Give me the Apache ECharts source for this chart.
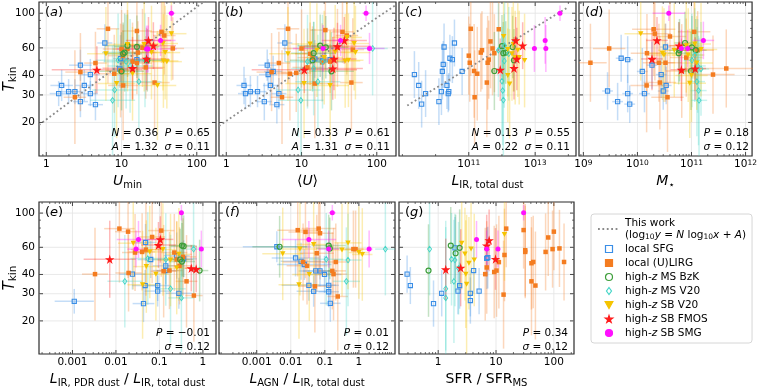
<!DOCTYPE html>
<html>
<head>
<meta charset="utf-8">
<script src="https://cdn.jsdelivr.net/npm/echarts@6/dist/echarts.min.js"></script>
<style>
  html, body { margin: 0; padding: 0; background: #fff; }
  #chart { width: 760px; height: 389px; }
</style>
</head>
<body>
<div id="chart"></div>
<script>
// each point: [x, T_kin, x error (dex), T error (dex)]
// (a) U_min
const sfgA = [[1.46,30.6,.12,.08],[1.6,34.5,.15,.1],[1.98,31.5,.12,.08],[2.4,31.5,.1,.08],[2.84,46.5,.15,.1],[2.84,27.2,.1,.1],[3.2,34.5,.12,.1],[3.85,40.5,.12,.1],[3.85,30.6,.1,.08],[4.5,26,.1,.1],[6,64.5,.1,.12],[9.7,51.3,.1,.15],[9.5,44,.1,.12],[16,50.5,.08,.1]];
const lirgA = [[6.6,79.5,.15,.35],[4.5,48,.15,.2],[2.84,42,.2,.25],[2.4,29,.15,.3],[10,59,.25,.25],[10.5,53.5,.2,.2],[9.7,43,.2,.3],[10.5,34.5,.2,.35],[16,77,.2,.25],[14,49,.2,.25],[16,48,.2,.2],[16.5,56,.25,.2],[27.5,36,.2,.3],[34,76,.15,.2],[37,72,.15,.25],[48,59.5,.15,.2],[12,59,.2,.25],[19,60,.2,.25],[21,45,.25,.2],[8,41,.2,.25]];
const bzkA = [[12,62,.3,.2],[16,61,.3,.2],[11,56,.3,.25],[10,42.5,.3,.25],[10.5,55,.25,.2],[22,50,.3,.2]];
const msA = [[7.6,27.7,.3,.35],[8.1,32.3,.3,.3],[9,50,.3,.3],[17,36.5,.3,.3],[20.5,50,.3,.3],[13,46,.3,.3],[11.5,49,.3,.3]];
const sbA = [[6.2,55,.25,.3],[8.6,35.5,.25,.35],[12,63,.25,.3],[14,41,.25,.3],[20,63,.25,.3],[25,56,.25,.3],[30,34.5,.25,.35],[35.5,64,.2,.3],[38,56,.2,.3],[36,49.5,.2,.3],[40,49,.2,.3],[46,74,.2,.3]];
const fmosA = [[4.7,43.5,.6,.15],[14,44.5,.4,.2],[21.5,51,.3,.2],[22.8,67,.3,.15],[26.5,62,.3,.15]];
const smgA = [[46,100,.05,.05],[33,67,.2,.1],[21.5,59,.4,.15],[22.5,59,.1,.15]];

// (b) <U>
const sfgB = [[1.72,34.5,.1,.12],[1.8,30.6,.1,.1],[2.09,31.5,.12,.1],[2.6,31.5,.12,.1],[3.2,27.2,.1,.12],[3.5,46.5,.12,.1],[3.6,40.5,.12,.1],[3.86,34.5,.1,.12],[4.2,42.4,.12,.1],[4.7,26,.1,.12],[5,30.6,.1,.1],[6,64.5,.1,.12],[19,49.5,.1,.12],[24,50.5,.1,.1],[15,51,.1,.12]];
const lirgB = [[6.6,79.5,.15,.35],[5,48,.15,.2],[4,42,.2,.25],[5.5,29,.15,.3],[7,41,.2,.3],[8.5,41.5,.2,.25],[10,59.5,.25,.25],[13,55,.2,.2],[14,52,.2,.2],[15,35.5,.2,.35],[18.8,48.5,.2,.25],[20.7,78,.2,.25],[35,76,.15,.2],[40,72,.15,.25],[48,58.5,.15,.2],[46,36,.15,.3],[30,60,.2,.25],[24,49,.2,.2],[12,45,.2,.25]];
const bzkB = [[14.5,55.5,.3,.2],[17.7,62,.3,.2],[21,60.5,.3,.2],[14,50,.3,.2],[25,42.5,.3,.25]];
const msB = [[9,32.3,.3,.3],[9.8,27.7,.3,.35],[14.5,44.3,.3,.3],[16.5,36.5,.3,.3],[19,49,.3,.3],[88,59.5,.2,.3],[12,49,.3,.3]];
const sbB = [[6.6,55,.25,.3],[10.8,35.5,.25,.35],[13,63.5,.25,.3],[16,58,.25,.3],[24,34.5,.25,.35],[28,56.5,.25,.3],[38,49.5,.2,.3],[42,50,.2,.3],[50,64,.2,.3],[52,56,.2,.3],[40,70,.2,.3],[20,52,.25,.3]];
const fmosB = [[10.9,43.5,.7,.15],[26,44.3,.4,.2],[27,51,.3,.2],[30,61.5,.45,.15],[37,67,.3,.15]];
const smgB = [[72,100,.05,.05],[80,59.5,.2,.1],[19.3,59.5,.4,.15],[33,67,.1,.1]];

// (c) L_IR, total dust
const sfgC = [[2.3e9,40.5,0,.15],[3.1e9,34.5,0,.15],[3.8e9,26.2,0,.15],[5e9,30.6,0,.15],[1.26e10,27.2,0,.15],[1.5e10,31.5,0,.15],[1.6e10,42.4,0,.18],[1.7e10,47,0,.15],[1.8e10,60.8,0,.15],[2.2e10,34.5,0,.15],[2.4e10,30.6,0,.12],[2.5e10,31.5,0,.12],[2.7e10,51.5,0,.15],[3.2e10,50.5,0,.15],[3.7e10,64.5,0,.15],[6.3e10,42.4,0,.15]];
const lirgC = [[1.15e11,79.5,0,.3],[1e11,53.5,0,.25],[1.07e11,48.2,0,.25],[1.45e11,42.7,0,.3],[1.5e11,29,0,.3],[1.8e11,41,0,.3],[2.3e11,56,0,.25],[3.7e11,48.2,0,.3],[4e11,50.5,0,.25],[3.5e11,36,0,.35],[5.2e11,59.5,0,.3],[5.9e11,55.5,0,.25],[4.5e11,66,0,.3],[8e11,79,0,.25],[2.5e11,58,0,.25]];
const bzkC = [[5.9e11,42.7,.1,.25],[1e12,61.5,.1,.2],[1.1e12,55.5,.1,.2],[2.1e12,60.8,.1,.2],[2.3e12,50,.1,.2],[1.3e12,56,.1,.2]];
const msC = [[7.8e11,58,0,.3],[1.17e12,49.5,0,.3],[1e12,36.8,0,.35],[1.05e12,32,0,.35],[1.1e12,27.8,0,.4],[1.6e12,55,0,.3],[1.2e12,62,0,.3]];
const sbC = [[1.12e12,71,0,.3],[1.5e12,58.5,0,.3],[2e12,55,0,.3],[3e12,58,0,.3],[4.8e12,49.8,0,.3],[1.7e12,35.3,0,.35],[2.5e12,52,0,.3],[2.2e12,63,0,.3],[3.3e12,52,0,.3],[1.5e12,40,0,.3]];
const fmosC = [[8.9e11,43.5,0,.2],[2.3e12,44.5,0,.2],[2.8e12,51,0,.2],[2.6e12,67,0,.15],[4.2e12,62,0,.15]];
const smgC = [[5.6e13,100,0,.05],[2e13,67,0,.15],[9.5e12,59.5,0,.15],[2.1e13,59.5,0,.15]];

// (d) M_star
const sfgD = [[2.8e9,31.8,.1,.12],[4.3e9,27.2,.1,.12],[5e9,51.5,.1,.15],[6.6e9,30.6,.1,.12],[6.6e9,50.5,.1,.15],[7.2e9,26.2,.1,.12],[1.23e10,42.4,.1,.15],[1.35e10,30.6,.1,.12],[1.86e10,46.5,.1,.15],[2.75e10,40.5,.1,.15],[3e10,31.8,.1,.12],[3.3e10,60.8,.1,.15],[3.4e10,34.5,.1,.12]];
const lirgD = [[1.35e9,48.2,.3,.25],[3e9,59.5,.3,.25],[1.48e10,34.5,.3,.3],[1.5e10,55.5,.3,.25],[2e10,79,.4,.3],[2.1e10,74,.3,.3],[2.5e10,48.2,.3,.25],[2.6e10,36,.3,.3],[3.3e10,48.2,.3,.25],[3.6e10,29,.3,.35],[4e10,71,.3,.3],[6.6e10,42.7,.3,.3],[1.12e11,76,.3,.3],[2.5e11,40.5,.4,.25],[4.4e11,44.3,.5,.25],[1.3e11,58,.3,.25],[8e10,52,.3,.25]];
const bzkD = [[5.8e10,55.5,.2,.2],[1.02e11,60.5,.2,.2],[9.8e10,42.7,.2,.25],[7.6e10,64.5,.2,.2],[1.2e11,58,.2,.2],[6e10,58,.2,.2]];
const msD = [[1.02e11,50,.15,.3],[1.5e11,44,.15,.3],[1.26e11,36.5,.15,.35],[1.35e11,32,.15,.35],[1.38e11,27.7,.15,.4],[1.15e11,54,.15,.3],[1.3e11,46,.15,.3]];
const sbD = [[1.15e10,74,.3,.3],[2.9e10,55.5,.3,.3],[3.1e10,54,.3,.3],[4.8e10,58,.3,.3],[8.7e10,54,.3,.3],[9.3e10,35.6,.3,.35],[1.15e11,63.5,.3,.3],[1.5e11,58.5,.3,.3],[1.25e11,48,.3,.3],[1e11,40,.3,.3],[8e10,62,.3,.3]];
const fmosD = [[1.86e10,51,.2,.2],[2.3e10,67,.2,.15],[5.9e10,62,.2,.15],[6.5e10,43.5,.2,.2],[1.17e11,44.3,.2,.2]];
const smgD = [[3.8e10,100,.3,.05],[6.5e10,59.5,.2,.12],[8.5e10,59.5,.2,.12],[1.66e11,67,.2,.12]];

// (e) L_IR,PDR / L_IR,total
const sfgE = [[0.0011,26.8,.45,.08],[0.024,40.2,.3,.1],[0.048,64.5,.25,.12],[0.047,33.9,.3,.1],[0.043,25.9,.25,.12],[0.091,33.9,.3,.1],[0.091,31.2,.3,.1],[0.14,45.5,.3,.12],[0.14,42.4,.3,.12],[0.28,30.2,.3,.1],[0.36,50.5,.3,.12],[0.063,50,.3,.12],[0.25,53,.3,.15]];
const lirgE = [[0.0033,40.2,.3,.3],[0.012,79.3,.35,.35],[0.019,75.8,.3,.3],[0.0195,40.9,.3,.25],[0.0275,55.5,.3,.25],[0.049,58,.35,.3],[0.068,70,.3,.3],[0.11,77,.3,.3],[0.17,42.4,.3,.25],[0.22,55.5,.3,.25],[0.29,45.5,.3,.25],[0.42,36.1,.25,.3],[0.62,29.2,.2,.3],[0.125,42,.3,.3],[0.25,50,.3,.25],[0.04,56,.3,.25],[0.35,52,.3,.25]];
const bzkE = [[0.33,61.6,.3,.2],[0.36,61,.3,.2],[0.3,50,.3,.2],[0.33,48.5,.3,.25],[0.84,42.4,.2,.2]];
const msE = [[0.016,36.1,.4,.3],[0.054,50.7,.4,.3],[0.18,32.3,.35,.35],[0.32,28.2,.3,.35],[0.61,58.4,.2,.3],[0.14,50,.3,.3]];
const sbE = [[0.025,63.8,.35,.3],[0.041,34.3,.35,.35],[0.083,40.2,.3,.3],[0.18,49.6,.3,.3],[0.25,44,.3,.3],[0.06,56,.3,.3],[0.28,54,.3,.3],[0.05,45,.3,.3],[0.12,58,.3,.3]];
const fmosE = [[0.0072,50.2,.6,.25],[0.105,67.5,.3,.15],[0.095,62,.4,.15],[0.54,43.9,.15,.15],[0.7,43.4,.1,.15]];
const smgE = [[0.32,100.5,.05,.05],[0.033,67.5,.5,.12],[0.029,58.4,.2,.12],[0.92,58.4,.05,.12]];

// (f) L_AGN / L_IR,total
const sfgF = [[0.0039,60.5,1.0,.1],[0.0138,51.2,.7,.12],[0.02,48.7,.6,.12],[0.025,46.4,.8,.1],[0.054,42.2,.5,.1],[0.072,42.2,.5,.1],[0.098,40,.5,.12],[0.034,34,.8,.1],[0.047,31.1,.5,.1],[0.13,34,.3,.1],[0.13,30.9,.3,.1],[0.145,26,.3,.12]];
const lirgF = [[0.016,77.5,.6,.3],[0.027,75.5,.5,.3],[0.066,79.3,.5,.3],[0.072,74,.4,.3],[0.023,48.2,.6,.25],[0.03,45.5,.6,.25],[0.051,33.5,.5,.3],[0.058,54.9,.5,.25],[0.166,42.2,.4,.25],[0.18,40.2,.4,.3],[0.21,48.2,.4,.25],[0.24,28.8,.3,.35],[0.69,58.4,.3,.25],[0.8,58.4,.3,.25]];
const bzkF = [[0.0047,60.5,.8,.2],[0.13,61.6,.5,.2],[0.14,59,.4,.2]];
const msF = [[0.11,50.2,.5,.3],[0.48,49.6,.4,.3],[0.43,36.1,.4,.35],[6,58.4,.3,.3]];
const sbF = [[0.0058,54.4,.6,.3],[0.0174,34.3,.6,.35],[0.0186,58.4,.5,.3],[0.047,62.6,.5,.3],[0.32,57.7,.4,.3],[0.48,64.1,.4,.3],[1,55.5,.3,.3],[1.26,53.9,.3,.3],[0.035,40,.5,.3]];
const fmosF = [];
const smgF = [[0.166,100.5,.1,.05],[0.034,67.5,.8,.12],[0.13,58.4,.3,.12],[2.0,58.4,.1,.12]];

// (g) SFR / SFR_MS
const sfgG = [[0.29,40.2,0,.12],[0.33,33.9,0,.12],[0.83,25.9,0,.15],[1.15,30.2,0,.15],[1.95,59.5,0,.2],[2.2,31.2,0,.15],[2.35,33.9,0,.15],[3.6,30.2,0,.15],[3.6,27.1,0,.15],[4.1,42.4,0,.15],[5.1,31.2,0,.15],[6.9,50.9,0,.2],[7.2,51.5,0,.2]];
const lirgG = [[6.5,40.2,0,.3],[6.9,44.4,0,.3],[9.3,41.5,0,.3],[10.2,42.4,0,.3],[11.2,48.1,0,.3],[13.5,29.6,0,.35],[14,53.5,0,.3],[15,79.3,0,.25],[30,77.6,0,.25],[32,57.4,0,.3],[32,56,0,.3],[41,47.3,0,.3],[44,48.2,0,.3],[41,36.1,0,.35],[48,33.9,0,.35],[72,56,0,.25],[80,69.5,0,.25],[95,58.4,0,.25],[100,75.8,0,.25],[125,59,0,.25],[150,48.2,0,.25]];
const bzkG = [[0.68,42.4,0,.3],[1.65,61.6,0,.25],[2.0,54.9,0,.25],[2.35,59.5,0,.25]];
const msG = [[0.71,58.4,0,.3],[1.7,50.2,0,.3],[1.95,49.6,0,.3],[1.87,36.1,0,.4],[1.35,32.3,0,.4],[1.35,28.2,0,.5],[2.25,43.9,0,.3]];
const sbG = [[2.55,63.8,0,.3],[2.9,54.2,0,.3],[3.7,58.4,0,.3],[4.2,49.6,0,.3],[3.4,47.3,0,.3],[3.0,40.2,0,.35],[3.1,34.6,0,.45],[14,72.6,0,.3]];
const fmosG = [[1.35,43.1,0,.2],[2.45,44.2,0,.25],[6.9,61.6,0,.2],[7.6,66.6,0,.2],[9.8,50.4,0,.2]];
const smgG = [[30,100.5,0,.05],[4.6,67.5,0,.12],[6.9,58.4,0,.12],[10.8,58.4,0,.12]];

// axes
const xRanges = [[0.8,180],[0.8,180],[7.9e8,1.7e14],[8.3e8,1.32e12],[1.7e-4,2],[7.8e-5,11.5],[0.21,223]];
const xMajor = [[1,10,100],[1,10,100],[1e11,1e13],[1e9,1e10,1e11,1e12],[0.001,0.01,0.1,1],[0.001,0.01,0.1,1],[1,10,100]];
const yRange = [12.2, 118];
const yMajor = [20, 30, 40, 60, 100];
const yMinor = [50, 70, 80, 90];

// fits: log10 y = N log10 x + A
const fitN = [0.36, 0.33, 0.13];
const fitA = [1.32, 1.31, 0.22];
const fitX = [[0.8, 180], [0.8, 180], [1.4e9, 9e13]];

const panelTags = ['a','b','c','d','e','f','g'];
const statLine1 = ['{i|N} = 0.36  {i|P} = 0.65', '{i|N} = 0.33  {i|P} = 0.61', '{i|N} = 0.13  {i|P} = 0.55', '{i|P} = 0.18', '{i|P} = \u22120.01', '{i|P} = 0.01', '{i|P} = 0.34'];
const statLine2 = ['{i|A} = 1.32  {i|σ} = 0.11', '{i|A} = 1.31  {i|σ} = 0.11', '{i|A} = 0.22  {i|σ} = 0.11', '{i|σ} = 0.12', '{i|σ} = 0.12', '{i|σ} = 0.12', '{i|σ} = 0.12'];
const xTitles = ['{i|U}{s|min}', '⟨{i|U}⟩', '{i|L}{s|IR, total dust}', '{i|M}{s|⋆}', '{i|L}{s|IR, PDR dust} / {i|L}{s|IR, total dust}', '{i|L}{s|AGN} / {i|L}{s|IR, total dust}', 'SFR / SFR{s|MS}'];

const groupNames = ['local SFG','local (U)LIRG','high-z MS BzK','high-z MS V20','high-z SB V20','high-z SB FMOS','high-z SB SMG'];
const panelData = [
  [sfgA, lirgA, bzkA, msA, sbA, fmosA, smgA],
  [sfgB, lirgB, bzkB, msB, sbB, fmosB, smgB],
  [sfgC, lirgC, bzkC, msC, sbC, fmosC, smgC],
  [sfgD, lirgD, bzkD, msD, sbD, fmosD, smgD],
  [sfgE, lirgE, bzkE, msE, sbE, fmosE, smgE],
  [sfgF, lirgF, bzkF, msF, sbF, fmosF, smgF],
  [sfgG, lirgG, bzkG, msG, sbG, fmosG, smgG]
];

// look
const FONT = 'DejaVu Sans';
const colors = ['#3a8ee6','#f47c20','#3d9e3a','#44d5c7','#f5c400','#ff1a1a','#ff10ff'];
const SQUARE = 'path://M0,0 L10,0 L10,10 L0,10 Z';
const CIRCLE = 'path://M10,5 A5,5 0 1 1 0,5 A5,5 0 1 1 10,5 Z';
const DIAMOND = 'path://M5,0 L10,7 L5,14 L0,7 Z';
const TRIDOWN = 'path://M0,0 L10,0 L5,9 Z';
const STAR = 'path://M50,0 L61,35 L98,35 L68,57 L79,91 L50,70 L21,91 L32,57 L2,35 L39,35 Z';
const markers = [
  { symbol: SQUARE, size: 4.2, fill: 'rgba(255,255,255,0)', bw: 1.1 },
  { symbol: SQUARE, size: 4.5, fill: null, bw: 0 },
  { symbol: CIRCLE, size: 5, fill: 'rgba(255,255,255,0)', bw: 1.2 },
  { symbol: DIAMOND, size: [4, 5.6], fill: 'rgba(255,255,255,0)', bw: 0.9 },
  { symbol: TRIDOWN, size: [5.5, 5], fill: null, bw: 0 },
  { symbol: STAR, size: 9.5, fill: null, bw: 0 },
  { symbol: CIRCLE, size: 5, fill: null, bw: 0 }
];
const boxes = [[39,2,177,154],[219,2,177,154],[399,2,177,154],[579,2,176,154],[39,202,177,154],[219,202,176,154],[399,202,175,154]];

function minorTicks(lo, hi, p) {
  if (p === 2) return [1e9, 1e10, 1e12, 1e14];
  const out = [];
  for (let e = Math.floor(Math.log10(lo)); e <= Math.ceil(Math.log10(hi)); e++) {
    for (let k = 2; k <= 9; k++) {
      const v = k * Math.pow(10, e);
      if (v > lo && v < hi) out.push(v);
    }
  }
  return out;
}

function seg(x1, y1, x2, y2, stroke, w, op) {
  return { type: 'line', shape: { x1: x1, y1: y1, x2: x2, y2: y2 },
    style: { stroke: stroke, lineWidth: w, opacity: op == null ? 1 : op } };
}

function decoRender(p) {
  const minors = minorTicks(xRanges[p][0], xRanges[p][1], p);
  return function (params, api) {
    const cs = params.coordSys;
    const L = cs.x, R = cs.x + cs.width, T = cs.y, B = cs.y + cs.height;
    const x0 = xRanges[p][0];
    const els = [];
    xMajor[p].forEach(function (v) {
      const x = api.coord([v, 50])[0];
      els.push(seg(x, T, x, B, '#e3e3e3', 0.8));
      els.push(seg(x, B, x, B - 4, '#333', 0.9), seg(x, T, x, T + 4, '#333', 0.9));
    });
    minors.forEach(function (v) {
      const x = api.coord([v, 50])[0];
      els.push(seg(x, B, x, B - 2, '#333', 0.7), seg(x, T, x, T + 2, '#333', 0.7));
    });
    yMajor.forEach(function (v) {
      const y = api.coord([x0, v])[1];
      els.push(seg(L, y, R, y, '#e3e3e3', 0.8));
      els.push(seg(L, y, L + 4, y, '#333', 0.9), seg(R, y, R - 4, y, '#333', 0.9));
      if (p === 0 || p === 4) {
        els.push({ type: 'text', x: L - 4, y: y,
          style: { text: String(v), font: '10.5px "' + FONT + '"', fill: '#000', align: 'right', verticalAlign: 'middle' } });
      }
    });
    yMinor.forEach(function (v) {
      const y = api.coord([x0, v])[1];
      els.push(seg(L, y, L + 2, y, '#333', 0.7), seg(R, y, R - 2, y, '#333', 0.7));
    });
    return { type: 'group', children: els };
  };
}

function errRender(color) {
  return function (params, api) {
    const x = api.value(0), y = api.value(1), dx = api.value(2), dy = api.value(3);
    const c = api.coord([x, y]);
    const els = [];
    if (dx > 0) {
      const f = Math.pow(10, dx);
      const a = api.coord([x / f, y]), b = api.coord([x * f, y]);
      els.push(seg(a[0], c[1], b[0], c[1], color, 1.5, 0.3));
    }
    if (dy > 0) {
      const g = Math.pow(10, dy);
      const a = api.coord([x, y / g]), b = api.coord([x, y * g]);
      els.push(seg(c[0], a[1], c[0], b[1], color, 1.5, 0.3));
    }
    return { type: 'group', children: els };
  };
}

function tickLabel(p) {
  return function (v) {
    const e = Math.round(Math.log10(v));
    if (Math.abs(Math.log10(v) - e) > 1e-6) return '';
    if (!xMajor[p].some(function (m) { return Math.abs(Math.log10(m) - e) < 1e-6; })) return '';
    if (p === 2 || p === 3) return '{b|10}{p|' + e + '}';
    return e >= 0 ? String(Math.pow(10, e)) : Math.pow(10, e).toFixed(-e);
  };
}

const titleRich = {
  i: { fontSize: 14, fontStyle: 'italic', lineHeight: 18, fontFamily: FONT },
  s: { fontSize: 10, lineHeight: 7, verticalAlign: 'bottom', fontFamily: FONT }
};

const grids = [], xAxes = [], yAxes = [], series = [], graphic = [];

boxes.forEach(function (b, p) {
  grids.push({ left: b[0], top: b[1], width: b[2], height: b[3], show: true,
    borderColor: '#2b2b2b', borderWidth: 1.2, backgroundColor: 'transparent' });
  xAxes.push({
    type: 'log', logBase: 10, gridIndex: p, min: xRanges[p][0], max: xRanges[p][1],
    axisLine: { show: false }, axisTick: { show: false }, splitLine: { show: false },
    axisLabel: { formatter: tickLabel(p), fontSize: 10.5, color: '#000', margin: 3, fontFamily: FONT,
      rich: { b: { fontSize: 10.5, fontFamily: FONT }, p: { fontSize: 7.5, lineHeight: 6, verticalAlign: 'top', fontFamily: FONT } } },
    name: xTitles[p], nameLocation: 'middle', nameGap: 16,
    nameTextStyle: { fontSize: 14, lineHeight: 18, color: '#000', fontFamily: FONT, rich: titleRich }
  });
  const ya = {
    type: 'log', logBase: 10, gridIndex: p, min: yRange[0], max: yRange[1],
    axisLine: { show: false }, axisTick: { show: false }, splitLine: { show: false },
    axisLabel: { show: false }
  };
  if (p === 0 || p === 4) {
    ya.name = '{i|T}{s|kin}';
    ya.nameLocation = 'middle';
    ya.nameGap = 20;
    ya.nameRotate = 90;
    ya.nameTextStyle = { fontSize: 15, lineHeight: 18, color: '#000', fontFamily: FONT,
      rich: { i: { fontSize: 15, fontStyle: 'italic', lineHeight: 18, fontFamily: FONT },
              s: { fontSize: 10.5, lineHeight: 7, verticalAlign: 'bottom', fontFamily: FONT } } };
  }
  yAxes.push(ya);

  series.push({ type: 'custom', name: 'deco', xAxisIndex: p, yAxisIndex: p, silent: true, z: 1,
    data: [[xMajor[p][0], 50]], renderItem: decoRender(p) });

  panelData[p].forEach(function (pts, g) {
    if (!pts.length) return;
    series.push({ type: 'custom', name: groupNames[g] + ' err', xAxisIndex: p, yAxisIndex: p,
      silent: true, clip: true, z: 2, data: pts, encode: { x: 0, y: 1 }, renderItem: errRender(colors[g]) });
  });
  if (p < 3) {
    series.push({ type: 'line', name: 'This work', xAxisIndex: p, yAxisIndex: p, z: 3, silent: true,
      symbol: 'none', clip: true, itemStyle: { color: 'rgba(0,0,0,0)', borderWidth: 0 },
      data: fitX[p].map(function (x) { return [x, Math.pow(10, fitN[p] * Math.log10(x) + fitA[p])]; }),
      lineStyle: { color: '#8a8a8a', width: 1.8, type: [1.8, 2.6] } });
  }
  panelData[p].forEach(function (pts, g) {
    if (!pts.length) return;
    const m = markers[g];
    series.push({ type: 'scatter', name: groupNames[g], xAxisIndex: p, yAxisIndex: p, z: 4, silent: true,
      symbol: m.symbol, symbolSize: m.size,
      itemStyle: { color: m.fill || colors[g], borderColor: colors[g], borderWidth: m.bw, opacity: 1 },
      data: pts.map(function (d) { return [d[0], d[1]]; }) });
  });

  const statRich = { i: { font: 'italic 10.5px "' + FONT + '"' } };
  graphic.push({ type: 'text', x: b[0] + 6, y: b[1] + 11, z: 100,
    style: { text: '({i|' + panelTags[p] + '})', font: '13px "' + FONT + '"', fill: '#000',
      align: 'left', verticalAlign: 'middle', rich: { i: { font: 'italic 13px "' + FONT + '"' } } } });
  graphic.push({ type: 'text', x: b[0] + b[2] - 6, y: b[1] + b[3] - 23, z: 100,
    style: { text: statLine1[p], font: '10.5px "' + FONT + '"', fill: '#000', align: 'right', verticalAlign: 'middle', rich: statRich } });
  graphic.push({ type: 'text', x: b[0] + b[2] - 6, y: b[1] + b[3] - 9, z: 100,
    style: { text: statLine2[p], font: '10.5px "' + FONT + '"', fill: '#000', align: 'right', verticalAlign: 'middle', rich: statRich } });
});

const chart = echarts.init(document.getElementById('chart'), null, { renderer: 'canvas' });
chart.setOption({
  animation: false,
  textStyle: { fontFamily: FONT },
  grid: grids,
  xAxis: xAxes,
  yAxis: yAxes,
  legend: {
    orient: 'vertical', left: 591, top: 214, selectedMode: false,
    padding: [3, 6, 4, 6], itemGap: 2, itemWidth: 22, itemHeight: 7,
    backgroundColor: '#fff', borderColor: '#d6d6d6', borderWidth: 1, borderRadius: 3,
    itemStyle: { borderWidth: 1.2 },
    data: [{ name: 'This work', itemStyle: { color: 'rgba(0,0,0,0)', borderColor: 'rgba(0,0,0,0)', borderWidth: 0 } }].concat(groupNames),
    formatter: function (name) {
      if (name === 'This work') return 'This work\n(log{s|10}{i|y} = {i|N} log{s|10}{i|x} + {i|A})';
      return name.replace('-z', '-{i|z}');
    },
    textStyle: { fontSize: 10.5, lineHeight: 12, color: '#000', fontFamily: FONT,
      rich: { i: { fontSize: 10.5, fontStyle: 'italic', lineHeight: 12, fontFamily: FONT },
              s: { fontSize: 7.5, lineHeight: 6, verticalAlign: 'bottom', fontFamily: FONT } } }
  },
  graphic: graphic,
  series: series
});
</script>
</body>
</html>
